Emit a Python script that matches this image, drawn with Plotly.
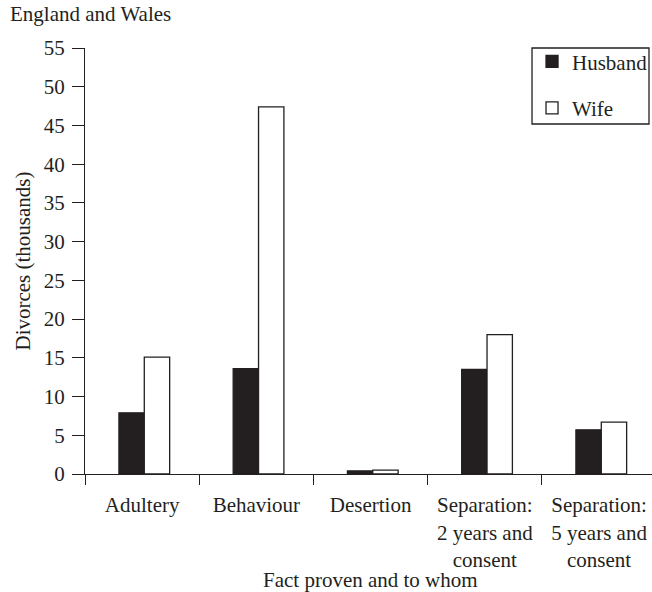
import plotly.graph_objects as go

categories = ["Adultery", "Behaviour", "Desertion",
              "Separation:<br>2 years and<br>consent",
              "Separation:<br>5 years and<br>consent"]
husband = [7.9, 13.6, 0.4, 13.5, 5.7]
wife = [15.1, 47.4, 0.5, 18.0, 6.7]
y_ticks = list(range(0, 56, 5))

INK = "#231f20"
FONT = "Liberation Serif"
FS = 21

fig = go.Figure()
fig.add_trace(go.Bar(name="Husband", x=categories, y=husband,
                     width=0.222, offset=-0.203,
                     marker=dict(color=INK, line=dict(color=INK, width=1.3)),
                     legendgroup="h"))
fig.add_trace(go.Bar(name="Wife", x=categories, y=wife,
                     width=0.222, offset=0.019,
                     marker=dict(color="white", line=dict(color=INK, width=1.3)),
                     legendgroup="w"))

fig.update_layout(
    width=652, height=592,
    margin=dict(l=85, r=0, t=48, b=118, autoexpand=False),
    paper_bgcolor="white", plot_bgcolor="white",
    font=dict(family=FONT, size=FS, color=INK),
    barmode="group", bargap=0.557, bargroupgap=0,
    showlegend=True,
    legend=dict(x=0.7884, xanchor="left", y=1.016, yanchor="top",
                bgcolor="rgba(0,0,0,0)", borderwidth=0,
                font=dict(family=FONT, size=FS, color=INK),
                traceorder="grouped", tracegroupgap=16.3),
    xaxis=dict(range=[-0.5, 4.463], showline=True, linecolor=INK, linewidth=1.3,
               ticks="outside", tickson="boundaries", ticklen=10, tickcolor=INK,
               tickwidth=1.3, showgrid=False, zeroline=False, automargin=False,
               ticklabelstandoff=12,
               tickfont=dict(family=FONT, size=FS, color=INK)),
    yaxis=dict(range=[0, 55], tickvals=y_ticks, showline=True, linecolor=INK,
               linewidth=1.3, ticks="outside", ticklen=12, tickcolor=INK,
               tickwidth=1.3, showgrid=False, zeroline=False, automargin=False,
               ticklabelstandoff=3,
               tickfont=dict(family=FONT, size=FS, color=INK),
               title=dict(text="Divorces (thousands)", standoff=7,
                          font=dict(family=FONT, size=FS, color=INK))),
    shapes=[dict(type="rect", xref="paper", yref="paper",
                 x0=0.7884, x1=0.9947, y0=0.8216, y1=1.0,
                 line=dict(color=INK, width=1.3), fillcolor="rgba(0,0,0,0)")],
    annotations=[
        dict(text="England and Wales", xref="paper", yref="paper",
             x=-0.1358, y=1.0798, xanchor="left", yanchor="middle",
             showarrow=False, font=dict(family=FONT, size=FS, color=INK)),
        dict(text="Fact proven and to whom", xref="paper", yref="paper",
             x=0.5044, y=-0.2488, xanchor="center", yanchor="middle",
             showarrow=False, font=dict(family=FONT, size=FS, color=INK)),
    ],
)

fig.write_html(
    "out.html",
    config={"displayModeBar": False},
    post_script="document.body.style.margin='0';"
                "document.documentElement.style.overflow='hidden';"
                "document.body.style.overflow='hidden';",
)
